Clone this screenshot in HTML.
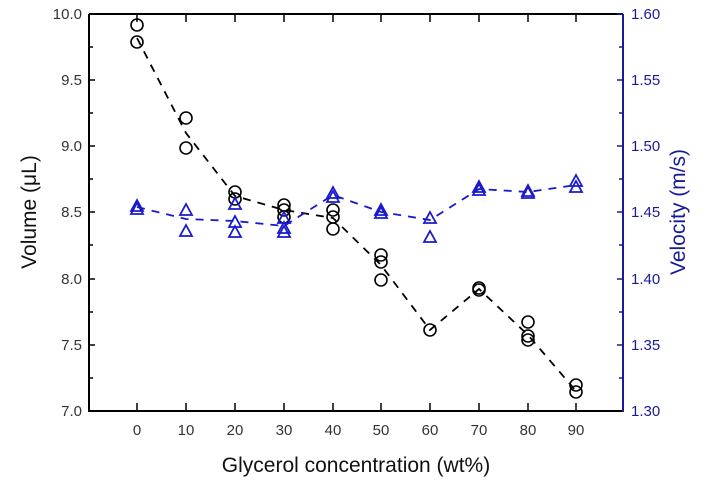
<!DOCTYPE html>
<html><head><meta charset="utf-8"><style>body{margin:0;background:#fff}svg{display:block}</style></head><body>
<svg width="709" height="485" xmlns="http://www.w3.org/2000/svg" font-family="Liberation Sans, sans-serif">
<rect width="709" height="485" fill="#fff"/>
<line x1="89" y1="14" x2="623" y2="14" stroke="#000" stroke-width="2"/>
<line x1="89" y1="411" x2="623" y2="411" stroke="#000" stroke-width="2"/>
<line x1="89" y1="14" x2="89" y2="412" stroke="#000" stroke-width="2"/>
<line x1="623" y1="14" x2="623" y2="412" stroke="#1a1a99" stroke-width="2"/>
<g stroke="#000" stroke-width="1.5">
<line x1="89" y1="14" x2="95" y2="14"/><line x1="89" y1="47" x2="93" y2="47"/>
<line x1="89" y1="80" x2="95" y2="80"/><line x1="89" y1="113" x2="93" y2="113"/>
<line x1="89" y1="146" x2="95" y2="146"/><line x1="89" y1="179" x2="93" y2="179"/>
<line x1="89" y1="212" x2="95" y2="212"/><line x1="89" y1="245" x2="93" y2="245"/>
<line x1="89" y1="279" x2="95" y2="279"/><line x1="89" y1="312" x2="93" y2="312"/>
<line x1="89" y1="345" x2="95" y2="345"/><line x1="89" y1="378" x2="93" y2="378"/>
</g>
<g stroke="#000" stroke-width="1.5">
<line x1="137" y1="411" x2="137" y2="403"/><line x1="186" y1="411" x2="186" y2="403"/>
<line x1="235" y1="411" x2="235" y2="403"/><line x1="284" y1="411" x2="284" y2="403"/>
<line x1="333" y1="411" x2="333" y2="403"/><line x1="381" y1="411" x2="381" y2="403"/>
<line x1="430" y1="411" x2="430" y2="403"/><line x1="479" y1="411" x2="479" y2="403"/>
<line x1="528" y1="411" x2="528" y2="403"/><line x1="576" y1="411" x2="576" y2="403"/>
<line x1="137" y1="14" x2="137" y2="22"/><line x1="186" y1="14" x2="186" y2="22"/>
<line x1="235" y1="14" x2="235" y2="22"/><line x1="284" y1="14" x2="284" y2="22"/>
<line x1="333" y1="14" x2="333" y2="22"/><line x1="381" y1="14" x2="381" y2="22"/>
<line x1="430" y1="14" x2="430" y2="22"/><line x1="479" y1="14" x2="479" y2="22"/>
<line x1="528" y1="14" x2="528" y2="22"/><line x1="576" y1="14" x2="576" y2="22"/>
</g>
<g stroke="#1a1a99" stroke-width="1.5">
<line x1="623" y1="14" x2="617" y2="14"/><line x1="623" y1="47" x2="619" y2="47"/>
<line x1="623" y1="80" x2="617" y2="80"/><line x1="623" y1="113" x2="619" y2="113"/>
<line x1="623" y1="146" x2="617" y2="146"/><line x1="623" y1="179" x2="619" y2="179"/>
<line x1="623" y1="212" x2="617" y2="212"/><line x1="623" y1="245" x2="619" y2="245"/>
<line x1="623" y1="279" x2="617" y2="279"/><line x1="623" y1="312" x2="619" y2="312"/>
<line x1="623" y1="345" x2="617" y2="345"/><line x1="623" y1="378" x2="619" y2="378"/>
</g>
<g font-size="15" fill="#333" text-anchor="end">
<text x="82" y="19">10.0</text><text x="82" y="85">9.5</text><text x="82" y="151">9.0</text>
<text x="82" y="217">8.5</text><text x="82" y="284">8.0</text><text x="82" y="350">7.5</text><text x="82" y="416">7.0</text>
</g>
<g font-size="15" fill="#1a1a99">
<text x="631" y="19">1.60</text><text x="631" y="85">1.55</text><text x="631" y="151">1.50</text>
<text x="631" y="217">1.45</text><text x="631" y="284">1.40</text><text x="631" y="350">1.35</text><text x="631" y="416">1.30</text>
</g>
<g font-size="15" fill="#333" text-anchor="middle">
<text x="137" y="435">0</text><text x="186" y="435">10</text><text x="235" y="435">20</text><text x="284" y="435">30</text><text x="333" y="435">40</text>
<text x="381" y="435">50</text><text x="430" y="435">60</text><text x="479" y="435">70</text><text x="528" y="435">80</text><text x="576" y="435">90</text>
</g>
<text x="356" y="472" font-size="21" text-anchor="middle" fill="#111">Glycerol concentration (wt%)</text>
<text transform="translate(36,212) rotate(-90)" font-size="21" text-anchor="middle" fill="#111">Volume (μL)</text>
<text transform="translate(685,212) rotate(-90)" font-size="21" text-anchor="middle" fill="#1a1a99">Velocity (m/s)</text>
<polyline points="137,38 186,133 235,196 284,210 333,218 381,265 430,330 479,289 528,335 576,391" fill="none" stroke="#000" stroke-width="1.8" stroke-dasharray="8,7"/>
<g fill="none" stroke="#000" stroke-width="1.6">
<circle cx="137" cy="25" r="6"/><circle cx="137" cy="42" r="6"/>
<circle cx="186" cy="118" r="6"/><circle cx="186" cy="148" r="6"/>
<circle cx="235" cy="192" r="6"/><circle cx="235" cy="199" r="6"/>
<circle cx="284" cy="205" r="6"/><circle cx="284" cy="210" r="6"/><circle cx="284" cy="217" r="6"/>
<circle cx="333" cy="210" r="6"/><circle cx="333" cy="217" r="6"/><circle cx="333" cy="229" r="6"/>
<circle cx="381" cy="255" r="6"/><circle cx="381" cy="262" r="6"/><circle cx="381" cy="280" r="6"/>
<circle cx="430" cy="330" r="6"/>
<circle cx="479" cy="288" r="6"/><circle cx="479" cy="290" r="6"/>
<circle cx="528" cy="322" r="6"/><circle cx="528" cy="336" r="6"/><circle cx="528" cy="340" r="6"/>
<circle cx="576" cy="385" r="6"/><circle cx="576" cy="392" r="6"/>
</g>
<polyline points="137,207 186,219 235,221 284,226 333,195 381,212 430,220 479,189 528,192 576,185" fill="none" stroke="#1a1acc" stroke-width="1.8" stroke-dasharray="8,7"/>
<g fill="none" stroke="#1a1acc" stroke-width="1.8">
<path d="M137,200 l6,11 h-12 z"/><path d="M137,203 l6,11 h-12 z"/>
<path d="M186,204 l6,11 h-12 z"/><path d="M186,225 l6,11 h-12 z"/>
<path d="M235,198 l6,11 h-12 z"/><path d="M235,216 l6,11 h-12 z"/><path d="M235,226 l6,11 h-12 z"/>
<path d="M284,212 l6,11 h-12 z"/><path d="M284,222 l6,11 h-12 z"/><path d="M284,226 l6,11 h-12 z"/>
<path d="M333,187 l6,11 h-12 z"/><path d="M333,191 l6,11 h-12 z"/>
<path d="M381,204 l6,11 h-12 z"/><path d="M381,207 l6,11 h-12 z"/>
<path d="M430,212 l6,11 h-12 z"/><path d="M430,231 l6,11 h-12 z"/>
<path d="M479,181 l6,11 h-12 z"/><path d="M479,184 l6,11 h-12 z"/>
<path d="M528,185 l6,11 h-12 z"/><path d="M528,187 l6,11 h-12 z"/>
<path d="M576,175 l6,11 h-12 z"/><path d="M576,181 l6,11 h-12 z"/>
</g>
</svg>
</body></html>
